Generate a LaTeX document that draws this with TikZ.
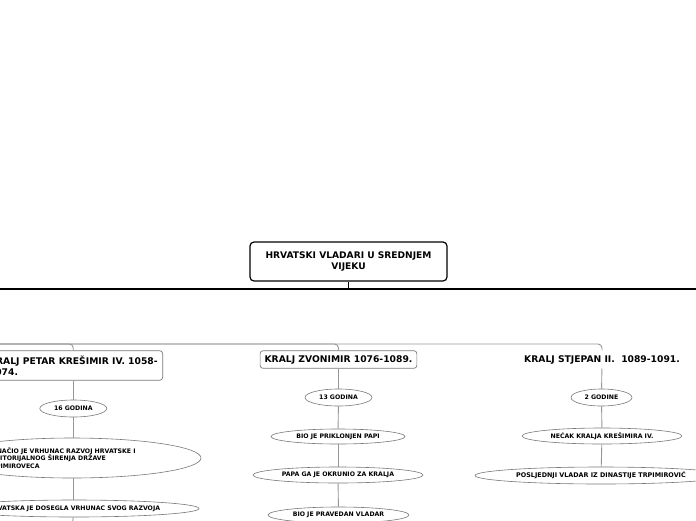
\documentclass[tikz,border=0pt]{standalone}
\usepackage{fontspec}
\setmainfont{DejaVu Sans}
\usetikzlibrary{positioning, shapes.geometric}
\definecolor{cL}{RGB}{150,150,150}
\definecolor{cB}{RGB}{120,120,120}

\begin{document}
\begin{tikzpicture}[x=1pt, y=-1pt, thick,
    root/.style={draw=black, line width=1.2pt, rounded corners=4pt, fill=white, align=center, inner sep=0pt, minimum width=197, minimum height=39, font=\fontsize{9.1}{11}\selectfont\bfseries},
    king/.style={draw=cB, line width=0.7pt, rounded corners=3pt, fill=white, inner sep=4.5pt, minimum height=17, font=\fontsize{9.2}{11}\selectfont\bfseries},
    fact/.style={ellipse, draw=cB, line width=0.6pt, fill=white, inner sep=0pt, font=\fontsize{6.2}{7.6}\selectfont\bfseries},
    link/.style={draw=cL, line width=0.9pt},
    spine/.style={draw=black, line width=1.1pt}]
    \useasboundingbox (0,0) rectangle (696,520);

    % Root
    \node[root] (R) at (348.5,261.5) {HRVATSKI VLADARI U SREDNJEM\\VIJEKU};
    \coordinate (spanL) at (0,289);
    \coordinate (spanR) at (696,289);
    \draw[spine] (spanL) -- (spanR);
    \draw[spine] (R.south) -- (R.south |- spanL);

    % Kings
    \node[king, minimum height=27, align=left, inner sep=5pt, anchor=east] (K1) at (163,365.5) {KRALJ PETAR KREŠIMIR IV. 1058-\\1074.};
    \node[king] (K2) at (338.5,359.5) {KRALJ ZVONIMIR 1076-1089.};
    \node[king, draw=none, fill=none] (K3) at (602,359.5) {KRALJ STJEPAN II.\ \ 1089-1091.};

    \coordinate (rail) at (0,344);
    \draw[link, rounded corners=4pt] (rail) -| (K3.north);
    \draw[link, rounded corners=4pt] (rail) -| (K2.north);
    \draw[link, rounded corners=4pt] (rail) -| (K1.north);

    % Petar Kresimir IV.
    \node[fact, minimum width=67, minimum height=17] (F11) at (K1.south |- 0,408.5) {16 GODINA};
    \node[fact, minimum width=258, minimum height=40] (F12) at (72,458) {\parbox{170pt}{\raggedright OZNAČIO JE VRHUNAC RAZVOJ HRVATSKE I\\TERITORIJALNOG ŠIRENJA DRŽAVE\\TRPIMIROVECA}};
    \node[fact, minimum width=250, minimum height=17] (F13) at (74,508.5) {HRVATSKA JE DOSEGLA VRHUNAC SVOG RAZVOJA};
    \coordinate (F13end) at (72,526);

    % Zvonimir
    \node[fact, minimum width=67, minimum height=17] (F21) at (338.5,397.5) {13 GODINA};
    \node[fact, minimum width=134, minimum height=15] (F22) at (338,436.5) {BIO JE PRIKLONJEN PAPI};
    \node[fact, minimum width=170, minimum height=16] (F23) at (338,475) {PAPA GA JE OKRUNIO ZA KRALJA};
    \node[fact, minimum width=141, minimum height=16] (F24) at (338.5,515) {BIO JE PRAVEDAN VLADAR};

    % Stjepan II.
    \node[fact, minimum width=61, minimum height=17] (F31) at (601.5,397.5) {2 GODINE};
    \node[fact, minimum width=160, minimum height=16] (F32) at (602,436) {NEĆAK KRALJA KREŠIMIRA IV.};
    \node[fact, minimum width=252, minimum height=17, font=\fontsize{6.4}{7.6}\selectfont\bfseries] (F33) at (601,475.5) {POSLJEDNJI VLADAR IZ DINASTIJE TRPIMIROVIĆ};

    % Links
    \draw[link] (K1) -- (F11);
    \draw[link] (F11) -- (F11 |- F12.north);
    \draw[link] (F11 |- F12.south) -- (F11 |- F13.north);
    \draw[link] (F11 |- F13.south) -- (F13end);
    \draw[link] (K2) -- (F21);
    \draw[link] (F21) -- (F22);
    \draw[link] (F22) -- (F23);
    \draw[link] (F23) -- (F24);
    \draw[link] (K3) -- (F31);
    \draw[link] (F31) -- (F32);
    \draw[link] (F32) -- (F33);
\end{tikzpicture}
\end{document}
